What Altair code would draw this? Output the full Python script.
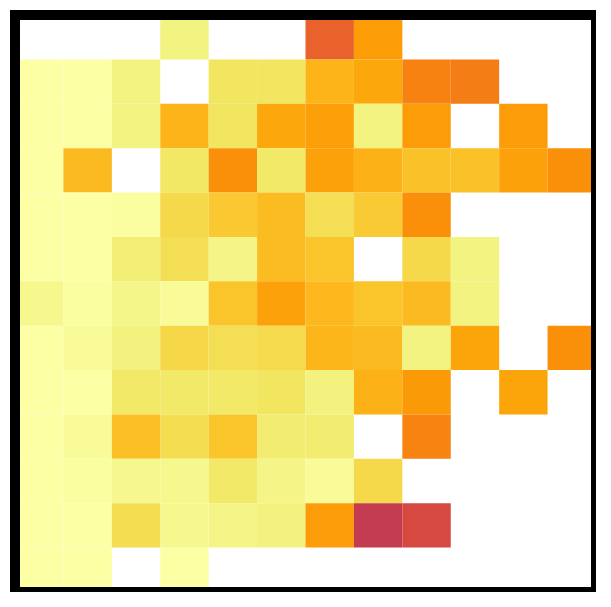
import altair as alt
import pandas as pd

# Intensity per cell (0 = palest, higher = hotter); None = empty cell
rows = list(range(13))
cols = list(range(12))
N = None
grid = [
    [N,   N,   N,   9,   N,   N,   90,  55,  N,   N,   N,   N],
    [0,   0,   9,   N,   17,  17,  43,  50,  70,  73,  N,   N],
    [0,   0,   9,   43,  17,  50,  54,  9,   56,  N,   56,  N],
    [0,   40,  N,   16,  62,  15,  53,  44,  36,  36,  53,  62],
    [0,   0,   1,   24,  33,  39,  21,  32,  62,  N,   N,   N],
    [0,   0,   12,  21,  8,   39,  35,  N,   24,  9,   N,   N],
    [6,   1,   7,   3,   35,  53,  41,  35,  40,  9,   N,   N],
    [0,   3,   10,  25,  21,  23,  42,  40,  9,   51,  N,   62],
    [0,   0,   15,  15,  15,  17,  10,  44,  57,  N,   51,  N],
    [0,   3,   37,  22,  35,  13,  13,  N,   69,  N,   N,   N],
    [0,   1,   6,   6,   15,  8,   3,   24,  N,   N,   N,   N],
    [0,   0,   22,  6,   8,   10,  56,  122, 108, N,   N,   N],
    [0,   0,   N,   0,   N,   N,   N,   N,   N,   N,   N,   N],
]

records = []
for r in rows:
    for c in cols:
        v = grid[r][c]
        if v is not None:
            records.append({"row": r, "col": c, "value": v})
df = pd.DataFrame(records)

W, H = 581, 577

heat = (
    alt.Chart(df)
    .mark_rect()
    .encode(
        x=alt.X("col:O", axis=None, scale=alt.Scale(domain=cols, paddingInner=0, paddingOuter=0)),
        y=alt.Y("row:O", axis=None, scale=alt.Scale(domain=rows, paddingInner=0, paddingOuter=0)),
        color=alt.Color(
            "value:Q",
            legend=None,
            scale=alt.Scale(scheme=alt.SchemeParams(name="inferno", extent=[1, 0]), domain=[0, 255]),
        ),
    )
)

frame = (
    alt.Chart(pd.DataFrame({"f": [0]}))
    .mark_rect(fillOpacity=0, stroke="black", strokeWidth=10)
    .encode(x=alt.value(0), x2=alt.value(W), y=alt.value(0), y2=alt.value(H))
)

chart = (
    alt.layer(heat, frame)
    .properties(
        width=W,
        height=H,
        autosize=alt.AutoSizeParams(type="none"),
        padding={"left": 7, "top": 7, "right": 0, "bottom": 0},
        background="white",
    )
    .configure_view(strokeWidth=0)
)

chart.save("out.html", embed_options={"renderer": "svg", "actions": False})
